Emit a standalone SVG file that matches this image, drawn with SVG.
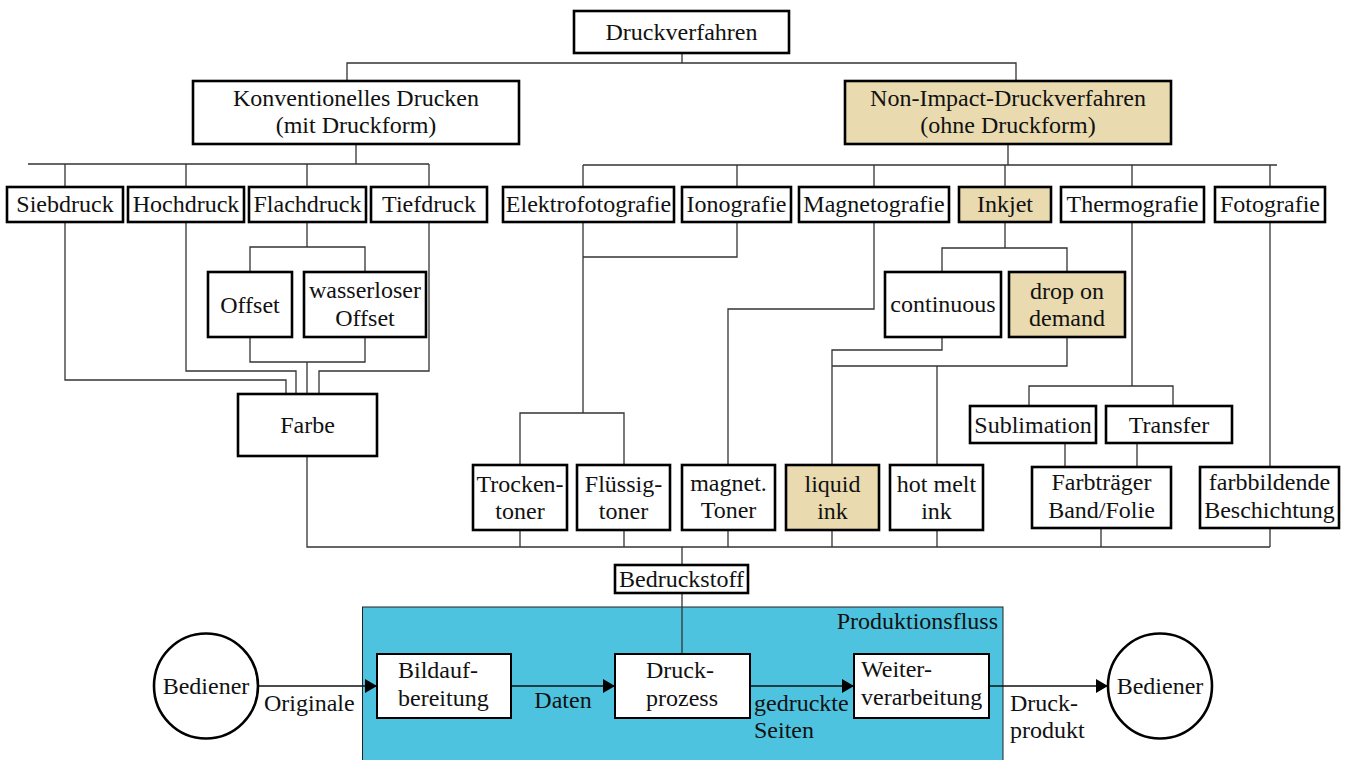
<svg xmlns="http://www.w3.org/2000/svg" width="1354" height="760" viewBox="0 0 1354 760">
<style>
.b{fill:#fff;stroke:#000;stroke-width:2.6}
.y{fill:#e9dbaf;stroke:#000;stroke-width:2.6}
.f{fill:#fff;stroke:#000;stroke-width:2}
.c{fill:none;stroke:#333;stroke-width:1.3}
.a{fill:none;stroke:#111;stroke-width:1.6}
text{font-family:"Liberation Serif",serif;font-size:24px;fill:#111}
.m{text-anchor:middle}
.e{text-anchor:end}
</style>
<defs>
<marker id="ar" markerUnits="userSpaceOnUse" markerWidth="12" markerHeight="14" viewBox="0 0 12 14" refX="12" refY="7" orient="auto">
<path d="M0,0 L12,7 L0,14 z" fill="#000"/>
</marker>
</defs>
<rect x="362.5" y="607" width="640.5" height="160" fill="#4ec3df" stroke="#222" stroke-width="1"/>
<text class="e" x="998" y="629">Produktionsfluss</text>
<g id="connectors">
<path class="c" d="M682,53 V63 M347,81 V63 H1016 V81"/>
<path class="c" d="M356,144 V164 M28,164 H429 M65,164 V187 M186,164 V187 M307,164 V187 M429,164 V187"/>
<path class="c" d="M1008,144 V165 M583,165 H1277 M583,165 V187 M737,165 V187 M874,165 V187 M1005,165 V187 M1132,165 V187 M1270,165 V187"/>
<path class="c" d="M307,222 V247 M250,272 V247 H365 V272"/>
<path class="c" d="M250,337 V362 H365 V337 M307,362 V394"/>
<path class="c" d="M65,222 V380 H286 V394"/>
<path class="c" d="M186,222 V371 H296 V394"/>
<path class="c" d="M429,222 V371 H319 V394"/>
<path class="c" d="M583,222 V257 H737 V222 M583,257 V413 M520,465 V413 H624 V465"/>
<path class="c" d="M874,222 V309 H728 V465"/>
<path class="c" d="M1005,222 V248 M942,272 V248 H1067 V272"/>
<path class="c" d="M942,337 V350 H832 V465"/>
<path class="c" d="M1067,337 V366 H832 M937,366 V465"/>
<path class="c" d="M1132,222 V386 M1029,406 V386 H1173 V406"/>
<path class="c" d="M1065,443 V467 M1137,443 V467"/>
<path class="c" d="M1270,222 V467"/>
<path class="c" d="M307,456 V547 H1270 M520,530 V547 M624,530 V547 M728,530 V547 M832,530 V547 M937,530 V547 M1101,528 V547 M1270,528 V547"/>
<path class="c" d="M682,547 V565 M682,593 V654"/>
<path class="a" d="M258,686 H377" marker-end="url(#ar)"/>
<path class="a" d="M511,686 H615" marker-end="url(#ar)"/>
<path class="a" d="M750,686 H854" marker-end="url(#ar)"/>
<path class="a" d="M989,686 H1108" marker-end="url(#ar)"/>
<text x="264" y="711">Originale</text>
<text class="m" x="563" y="708">Daten</text>
<text x="754" y="711">gedruckte</text>
<text x="754" y="738">Seiten</text>
<text x="1010" y="711">Druck-</text>
<text x="1010" y="738">produkt</text>
</g>
<g id="n-druckverfahren"><rect class="b" x="574" y="11" width="215" height="42"/><text class="m" x="681.5" y="40">Druckverfahren</text></g>
<g id="n-konv"><rect class="b" x="193" y="81" width="326" height="63"/><text class="m" x="356" y="106">Konventionelles Drucken</text><text class="m" x="356" y="133">(mit Druckform)</text></g>
<g id="n-nonimpact"><rect class="y" x="845" y="81" width="326" height="63"/><text class="m" x="1008" y="106">Non-Impact-Druckverfahren</text><text class="m" x="1008" y="133">(ohne Druckform)</text></g>
<g id="n-sieb"><rect class="b" x="7" y="187" width="116" height="35"/><text class="m" x="65" y="212">Siebdruck</text></g>
<g id="n-hoch"><rect class="b" x="128" y="187" width="116" height="35"/><text class="m" x="186" y="212">Hochdruck</text></g>
<g id="n-flach"><rect class="b" x="249" y="187" width="117" height="35"/><text class="m" x="307.5" y="212">Flachdruck</text></g>
<g id="n-tief"><rect class="b" x="371" y="187" width="116" height="35"/><text class="m" x="429" y="212">Tiefdruck</text></g>
<g id="n-elektro"><rect class="b" x="503" y="187" width="171" height="35"/><text class="m" x="588.5" y="212">Elektrofotografie</text></g>
<g id="n-iono"><rect class="b" x="682" y="187" width="109" height="35"/><text class="m" x="736.5" y="212">Ionografie</text></g>
<g id="n-magneto"><rect class="b" x="799" y="187" width="150" height="35"/><text class="m" x="874" y="212">Magnetografie</text></g>
<g id="n-inkjet"><rect class="y" x="959" y="187" width="92" height="35"/><text class="m" x="1005" y="212">Inkjet</text></g>
<g id="n-thermo"><rect class="b" x="1061" y="187" width="143" height="35"/><text class="m" x="1132.5" y="212">Thermografie</text></g>
<g id="n-foto"><rect class="b" x="1215" y="187" width="110" height="35"/><text class="m" x="1270" y="212">Fotografie</text></g>
<g id="n-offset"><rect class="b" x="208" y="272" width="84" height="65"/><text class="m" x="250" y="313">Offset</text></g>
<g id="n-wasserlos"><rect class="b" x="304" y="272" width="122" height="65"/><text class="m" x="365" y="298">wasserloser</text><text class="m" x="365" y="326">Offset</text></g>
<g id="n-continuous"><rect class="b" x="885" y="272" width="116" height="65"/><text class="m" x="943" y="312">continuous</text></g>
<g id="n-dod"><rect class="y" x="1009" y="272" width="116" height="65"/><text class="m" x="1067" y="299">drop on</text><text class="m" x="1067" y="326">demand</text></g>
<g id="n-farbe"><rect class="b" x="238" y="394" width="139" height="62"/><text class="m" x="307.5" y="433">Farbe</text></g>
<g id="n-sublimation"><rect class="b" x="970" y="406" width="126" height="37"/><text class="m" x="1033" y="433">Sublimation</text></g>
<g id="n-transfer"><rect class="b" x="1106" y="406" width="126" height="37"/><text class="m" x="1169" y="433">Transfer</text></g>
<g id="n-trocken"><rect class="b" x="473" y="465" width="94" height="65"/><text class="m" x="520" y="492">Trocken-</text><text class="m" x="520" y="519">toner</text></g>
<g id="n-fluessig"><rect class="b" x="577" y="465" width="93" height="65"/><text class="m" x="623.5" y="492">Flüssig-</text><text class="m" x="623.5" y="519">toner</text></g>
<g id="n-magnet"><rect class="b" x="682" y="465" width="93" height="65"/><text class="m" x="728.5" y="491">magnet.</text><text class="m" x="728.5" y="518">Toner</text></g>
<g id="n-liquid"><rect class="y" x="786" y="465" width="93" height="65"/><text class="m" x="832.5" y="492">liquid</text><text class="m" x="832.5" y="519">ink</text></g>
<g id="n-hotmelt"><rect class="b" x="890" y="465" width="93" height="65"/><text class="m" x="936.5" y="492">hot melt</text><text class="m" x="936.5" y="519">ink</text></g>
<g id="n-farbtraeger"><rect class="b" x="1032" y="467" width="139" height="61"/><text class="m" x="1101.5" y="490">Farbträger</text><text class="m" x="1101.5" y="518">Band/Folie</text></g>
<g id="n-farbbildende"><rect class="b" x="1200" y="467" width="139" height="61"/><text class="m" x="1269.5" y="490">farbbildende</text><text class="m" x="1269.5" y="518">Beschichtung</text></g>
<g id="n-bedruckstoff"><rect class="b" x="615" y="565" width="133" height="28"/><text class="m" x="681.5" y="587">Bedruckstoff</text></g>
<g id="n-bediener1"><ellipse class="b" cx="206" cy="686" rx="52" ry="52.5"/><text class="m" x="206" y="694">Bediener</text></g>
<g id="n-bildauf"><rect class="f" x="377" y="654" width="134" height="64"/><text x="398" y="678">Bildauf-</text><text x="398" y="706">bereitung</text></g>
<g id="n-druckprozess"><rect class="f" x="615" y="654" width="135" height="64"/><text x="646" y="678">Druck-</text><text x="646" y="706">prozess</text></g>
<g id="n-weiter"><rect class="f" x="854" y="654" width="135" height="64"/><text x="861" y="677">Weiter-</text><text x="861" y="705">verarbeitung</text></g>
<g id="n-bediener2"><ellipse class="b" cx="1160" cy="686" rx="52" ry="52.5"/><text class="m" x="1160" y="694">Bediener</text></g>
</svg>
